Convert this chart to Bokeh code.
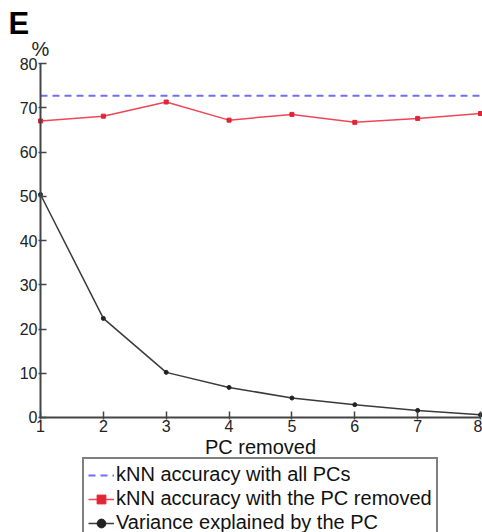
from bokeh.plotting import figure
from bokeh.models import Legend, LegendItem, Label, FixedTicker, Range1d
from bokeh.embed import file_html
from bokeh.resources import INLINE

# ---- data ----
pcs = [1, 2, 3, 4, 5, 6, 7, 8]
acc_all_pcs = 72.7
acc_pc_removed = [67.0, 68.1, 71.3, 67.2, 68.5, 66.7, 67.6, 68.7]
variance_explained = [50.4, 22.4, 10.2, 6.8, 4.4, 2.9, 1.6, 0.6]
y_ticks = [0, 10, 20, 30, 40, 50, 60, 70, 80]
x_ticks = pcs
legend_labels = ["kNN accuracy with all PCs",
                 "kNN accuracy with the PC removed",
                 "Variance explained by the PC"]

FONT = "Liberation Sans"

# the frame fills the whole canvas; axes are pinned at x=1 and y=0
p = figure(width=482, height=532, output_backend="svg", toolbar_location=None,
           x_range=Range1d(0.3636, 8.0318), y_range=Range1d(-25.99, 94.24),
           min_border_left=0, min_border_right=0,
           min_border_top=0, min_border_bottom=0)
p.outline_line_color = None
p.xgrid.visible = False
p.ygrid.visible = False
p.background_fill_color = "white"
p.border_fill_color = "white"

blue_r = p.line(x=[pcs[0], pcs[-1]], y=[acc_all_pcs, acc_all_pcs],
                line_color="#6f6ff2", line_width=2, line_dash="7 5")
red_l = p.line(x=pcs, y=acc_pc_removed, line_color="#ef4656", line_width=1.5)
red_m = p.scatter(x=pcs, y=acc_pc_removed, marker="square", size=4,
                  fill_color="#e02535", line_color="#e02535")
blk_l = p.line(x=pcs, y=variance_explained, line_color="#3a3a3a", line_width=1.5)
blk_m = p.scatter(x=pcs, y=variance_explained, marker="circle", size=4,
                  fill_color="#222222", line_color="#222222")

for ax in (p.xaxis[0], p.yaxis[0]):
    ax.axis_line_color = "#444444"
    ax.axis_line_width = 2
    ax.major_tick_line_color = "#444444"
    ax.major_tick_line_width = 1.5
    ax.major_tick_in = 6
    ax.major_tick_out = 2
    ax.minor_tick_line_color = None
    ax.major_label_text_font = FONT
    ax.major_label_text_font_size = "16px"
    ax.major_label_text_color = "#222222"
    ax.major_label_standoff = 1

p.xaxis.fixed_location = 0
p.xaxis.bounds = (pcs[0], pcs[-1])
p.yaxis.fixed_location = pcs[0]
p.yaxis.bounds = (y_ticks[0], y_ticks[-1])
p.xaxis.ticker = FixedTicker(ticks=x_ticks)
p.yaxis.ticker = FixedTicker(ticks=y_ticks)
p.xaxis.axis_label = "PC removed"
p.xaxis.axis_label_text_font = FONT
p.xaxis.axis_label_text_font_size = "20px"
p.xaxis.axis_label_text_font_style = "normal"
p.xaxis.axis_label_text_color = "#111111"
p.xaxis.axis_label_standoff = 0

p.add_layout(Label(x=1, y=80, text="%", x_offset=0, y_offset=15,
                   text_align="center", text_baseline="alphabetic",
                   text_font=FONT, text_font_size="20px", text_color="#222222"))
p.add_layout(Label(x=1, y=80, text="E", x_offset=-32, y_offset=40,
                   text_align="left", text_baseline="alphabetic",
                   text_font=FONT, text_font_size="31px", text_font_style="bold",
                   text_color="black"))

legend = Legend(items=[LegendItem(label=legend_labels[0], renderers=[blue_r]),
                       LegendItem(label=legend_labels[1], renderers=[red_l, red_m]),
                       LegendItem(label=legend_labels[2], renderers=[blk_l, blk_m])],
                location=(82, -8), orientation="vertical",
                label_text_font=FONT, label_text_font_size="20px",
                label_text_color="#111111",
                glyph_width=26, glyph_height=22, label_height=22,
                label_standoff=2, spacing=1, padding=4, margin=0,
                border_line_color="black", border_line_width=2,
                background_fill_color="white", background_fill_alpha=1)
p.add_layout(legend, "center")

open("out.html", "w").write(file_html(p, INLINE))
